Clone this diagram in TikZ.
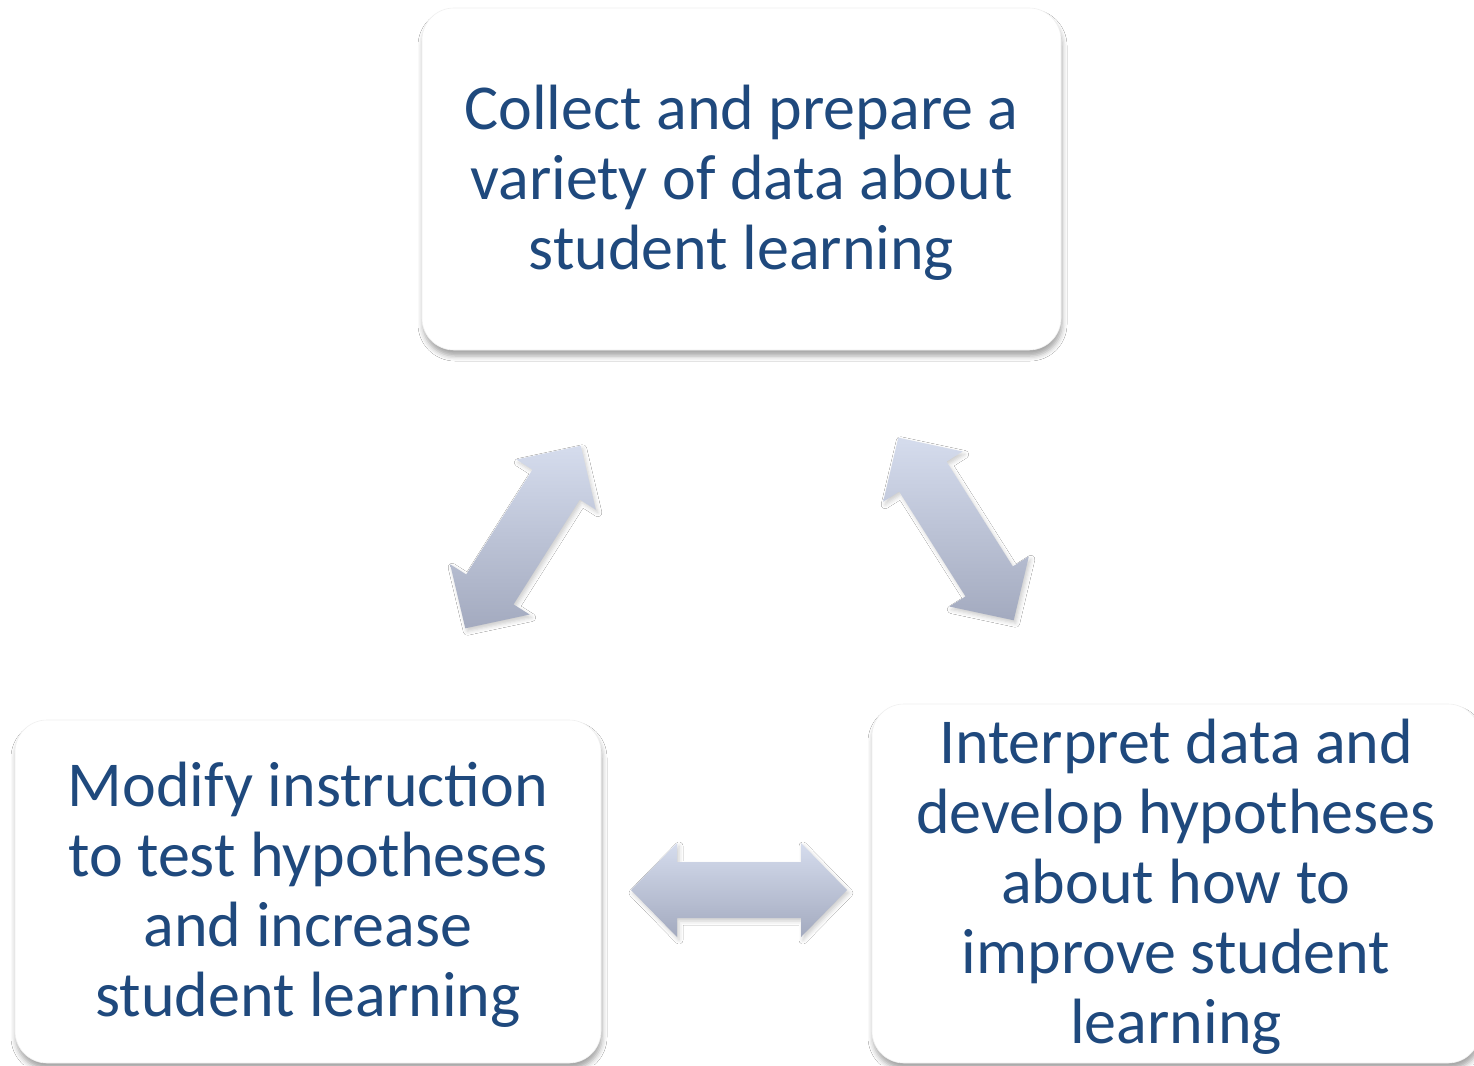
\documentclass[tikz,border=0pt]{standalone}
\usepackage{fontspec}
\setmainfont{Carlito}
\usetikzlibrary{shadows.blur}
\definecolor{txtblue}{RGB}{31,73,125}
\definecolor{arrtop}{RGB}{213,220,237}
\definecolor{arrbot}{RGB}{163,170,191}
\newcommand\blockarrow[3]{%
  \path[blockarr, shift={(#1,#2)}, rotate=#3]
    (-108,0) -- (-62,-47) -- (-62,-28) -- (62,-28) -- (62,-47) -- (108,0)
    -- (62,47) -- (62,28) -- (-62,28) -- (-62,47) -- cycle;}
\newcommand\firststrut{\rule{0pt}{51pt}}
\begin{document}
\begin{tikzpicture}[x=1pt,y=-1pt,
  box/.style={draw=black!6, line width=0.6pt, fill=white, rounded corners=32pt,
    text=txtblue, align=center, inner sep=0pt,
    font=\fontsize{64}{70}\selectfont,
    blur shadow={shadow xshift=1pt, shadow yshift=-6pt, shadow blur radius=5pt, shadow opacity=35}},
  blockarr/.style={top color=arrtop, bottom color=arrbot, draw=none,
    blur shadow={shadow xshift=2pt, shadow yshift=-3pt, shadow blur radius=4pt, shadow opacity=20}}]
\useasboundingbox (0,0) rectangle (1474,1065);
\fill[white] (0,0) rectangle (1474,1065);
\clip (0,0) rectangle (1474,1065);

\node[box, minimum width=639pt, minimum height=342pt] (collect) at (741.5,179)
  {\firststrut Collect and prepare a\\variety of data about\\student learning};
\node[box, minimum width=586pt, minimum height=343pt] (modify) at (308,891.5)
  {\firststrut Modify instruction\\to test hypotheses\\and increase\\student learning};
\node[box, minimum width=608pt, minimum height=359pt] (interpret) at (1176,883.5)
  {\firststrut Interpret data and\\develop hypotheses\\about how to\\improve student\\learning};

\blockarrow{523}{537}{57.7}
\blockarrow{956}{529}{-57.7}
\blockarrow{739}{890}{0}
\end{tikzpicture}
\end{document}
